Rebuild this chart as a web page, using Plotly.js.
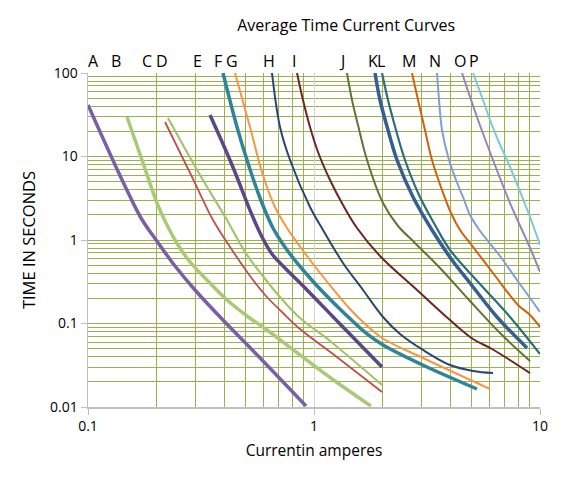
<!DOCTYPE html>
<html>
<head>
<meta charset="utf-8">
<script src="https://cdn.plot.ly/plotly-3.0.1.min.js"></script>
<style>html,body{margin:0;padding:0;background:#fff;}#chart{width:574px;height:490px;}</style>
</head>
<body>
<div id="chart"></div>
<script>
// Curve labels and their positions (amperes) along the top
const curveLabels = ["A","B","C","D","E","F","G","H","I","J","K","L","M","N","O","P"];
const labelX = [0.1055,0.133,0.182,0.212,0.305,0.377,0.434,0.634,0.819,1.334,1.83,1.97,2.63,3.43,4.43,5.12];

// Curve data: current (amperes) vs time (seconds)
const aX = [0.1,0.1429,0.1716,0.2,0.2427,0.2975,0.3955,0.5888,0.9218];
const aY = [41.4,4.95,1.834,1.0,0.488,0.252,0.110,0.0366,0.01028];
const bX = [0.1488,0.1734,0.2020,0.2237,0.2502,0.2828,0.3294,0.4121,0.5052,0.6194,0.8670,1.2385,1.787];
const bY = [29.7,9.08,2.77,1.512,0.871,0.545,0.351,0.191,0.123,0.0836,0.042,0.0205,0.01028];
const cX = [0.2192,0.2887,0.3573,0.4339,0.5210,0.6133,0.7217,0.8671,1.2137,1.9994];
const cY = [25.9,5.68,1.736,0.759,0.3706,0.2135,0.1373,0.0859,0.0431,0.01512];
const dX = [0.2259,0.3130,0.4121,0.4951,0.5888,0.7072,0.8671,1.1772,1.9994];
const dY = [28.9,6.00,1.736,0.7184,0.3808,0.2077,0.1164,0.0617,0.01834];
const eX = [0.3467,0.4339,0.5316,0.5888,0.6518,0.7441,0.9312,1.3032,1.9994];
const eY = [31.4,7.91,1.993,1.086,0.6797,0.4622,0.252,0.0986,0.0301];
const fX = [0.3955,0.4564,0.5052,0.5769,0.6584,0.7596,0.8939,1.0629,1.3714,1.7163,2.0200,3.1623,5.2627];
const fY = [100,22.56,9.08,3.184,1.392,0.759,0.4372,0.2589,0.1300,0.0749,0.0553,0.0301,0.01643];
const gX = [0.4471,0.5210,0.5888,0.6652,0.7596,0.9601,1.2137,1.4430,1.6479,1.9994,3.036,6.009];
const gY = [100,22.56,6.523,2.626,1.392,0.576,0.2589,0.1492,0.1042,0.0671,0.0386,0.01643];
const hX = [0.6518,0.7072,0.7833,0.9601,1.0960,1.3437,1.6479,2.0200,2.4022,3.036,3.998,5.052,6.194];
const hY = [100,22.56,9.08,2.484,1.318,0.5304,0.252,0.1197,0.0749,0.0482,0.0318,0.0270,0.0255];
const iX = [0.8411,0.8939,0.9601,1.0416,1.1772,1.3437,1.5500,1.9588,2.857,3.998,5.052,6.133,9.033];
const iY = [100,47.5,22.56,11.32,5.23,2.626,1.392,0.6436,0.252,0.110,0.0652,0.0495,0.0255];
const jX = [1.3996,1.4727,1.5654,1.7163,2.0200,2.3540,2.798,3.610,4.900,6.653,9.033];
const jY = [100,47.5,23.84,9.08,2.77,1.471,0.9206,0.4622,0.1860,0.0769,0.0356];
const kX = [1.8621,1.9588,2.1255,2.3300,2.742,3.327,4.079,4.900,6.452,8.760];
const kY = [100,47.5,20.77,9.08,3.273,1.318,0.576,0.3055,0.1197,0.0509];
const lX = [1.9994,2.1255,2.3059,2.527,2.915,3.430,3.998,5.426,7.368,10];
const lY = [100,47.5,20.77,9.08,3.458,1.512,0.759,0.2972,0.1197,0.0431];
const mX = [2.714,2.886,3.098,3.327,3.685,4.038,4.426,4.900,6.194,7.991,9.033,10];
const mY = [100,47.5,20.77,9.08,3.969,2.105,1.318,0.9206,0.4026,0.1666,0.1264,0.0908];
const nX = [3.502,3.574,3.685,3.957,4.249,4.563,4.900,5.316,5.827,6.653,7.909,9.033,10];
const nY = [100,47.5,20.77,9.08,5.23,3.273,1.993,1.392,1.0,0.6436,0.3319,0.2020,0.1373];
const oX = [4.517,5.263,6.194,7.368,8.326,9.126,10];
const oY = [100,29.7,9.08,2.77,1.318,0.759,0.4138];
const pX = [5.052,5.595,6.009,6.518,7.368,9.033,10];
const pY = [100,47.5,27.36,15.76,7.485,1.886,0.871];

const series = [
  [aX,aY,"#7b5fa6",3.5],
  [bX,bY,"#a9c975",3.5],
  [cX,cY,"#c0504d",1.8],
  [dX,dY,"#a3c46c",2.2],
  [eX,eY,"#5b4785",3.5],
  [fX,fY,"#2f8497",3.5],
  [gX,gY,"#f79646",2],
  [hX,hY,"#2a4670",2],
  [iX,iY,"#6b2626",2],
  [jX,jY,"#607532",2],
  [kX,kY,"#365f91",3.5],
  [lX,lY,"#2d6e7c",2.2],
  [mX,mY,"#d0620e",2],
  [nX,nY,"#7f9fd8",2],
  [oX,oY,"#9684bc",2],
  [pX,pY,"#7ccad8",2]
];

const traces = series.map((s,i)=>({
  x:s[0], y:s[1], type:'scatter', mode:'lines', name:curveLabels[i],
  line:{color:s[2], width:s[3], shape:'spline', smoothing:1},
  hoverinfo:'x+y'
}));

// minor grid values: digits 2..9 in every decade of the range
function minorVals(lo, hi){
  const v = [];
  for (let e = lo; e < hi; e++) for (let d = 2; d <= 9; d++) v.push(+(d*Math.pow(10,e)).toPrecision(3));
  return v;
}

const FONT = '"Open Sans", "Liberation Sans", sans-serif';
const GREEN = '#9bb14f';

const annotations = curveLabels.map((t,i)=>({
  text:t, xref:'x', x:Math.log10(labelX[i]), yref:'paper', y:1.037,
  xanchor:'center', yanchor:'middle', showarrow:false,
  font:{family:FONT, size:16, color:'#000'}
}));

const layout = {
  width:574, height:490,
  margin:{l:88, r:34, t:73, b:83},
  paper_bgcolor:'#fff', plot_bgcolor:'#fff',
  showlegend:false,
  font:{family:FONT, color:'#000'},
  title:{text:'Average Time Current Curves', font:{family:FONT, size:16, color:'#000'},
         xref:'container', x:0.603, xanchor:'center', yref:'container', y:0.949, yanchor:'middle'},
  xaxis:{type:'log', range:[-1,1], tickmode:'linear', tick0:0, dtick:1,
         showgrid:true, gridcolor:'#d4d4d4', gridwidth:1,
         minor:{tickmode:'array', tickvals:minorVals(-1,1), showgrid:true, gridcolor:GREEN, gridwidth:1, ticks:''},
         showline:true, linecolor:'#bfbfbf', linewidth:1.5,
         ticks:'outside', ticklen:6, tickcolor:'#bfbfbf',
         tickfont:{family:FONT, size:14, color:'#000'}, zeroline:false,
         title:{text:'Currentin amperes', font:{family:FONT, size:15.5, color:'#000'}, standoff:11}},
  yaxis:{type:'log', range:[-2,2], tickmode:'linear', tick0:0, dtick:1,
         showgrid:true, gridcolor:GREEN, gridwidth:1,
         minor:{tickmode:'array', tickvals:minorVals(-2,2), showgrid:true, gridcolor:GREEN, gridwidth:1, ticks:''},
         showline:true, linecolor:'#bfbfbf', linewidth:1.5,
         ticks:'outside', ticklen:6, tickcolor:'#bfbfbf',
         tickfont:{family:FONT, size:14, color:'#000'}, zeroline:false,
         title:{text:'TIME IN SECONDS', font:{family:FONT, size:16.5, color:'#000'}, standoff:10}},
  annotations:annotations
};

Plotly.newPlot('chart', traces, layout, {displayModeBar:false, staticPlot:true});
</script>
</body>
</html>
